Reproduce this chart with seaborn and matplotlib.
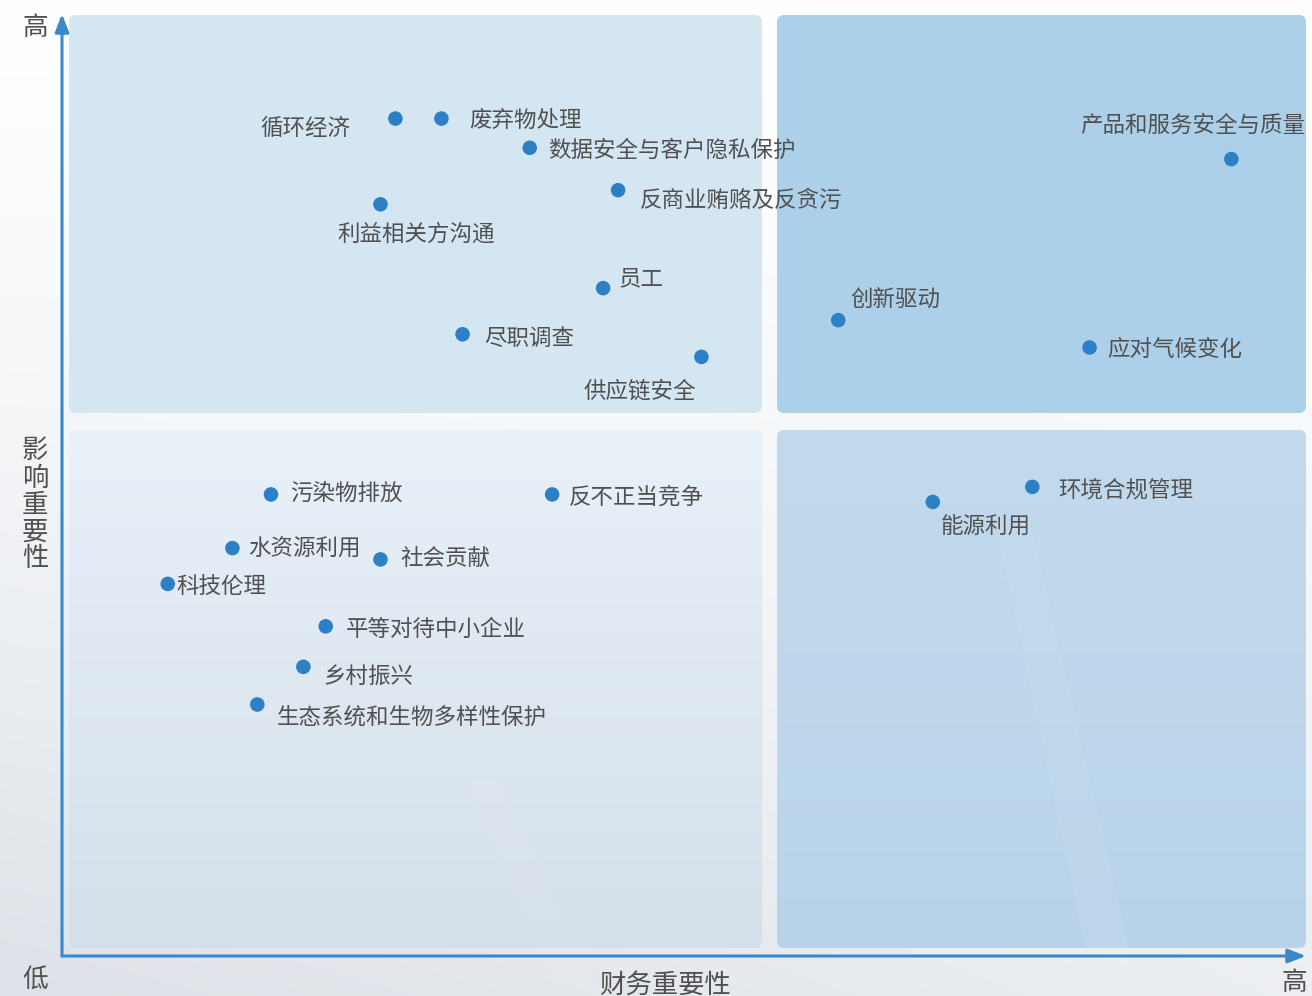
import numpy as np
import pandas as pd
import matplotlib
matplotlib.use("Agg")
import matplotlib.pyplot as plt
import seaborn as sns
from matplotlib.patches import FancyBboxPatch, Polygon

# ---------------- data ----------------
topics = ["循环经济", "废弃物处理", "数据安全与客户隐私保护", "反商业贿赂及反贪污",
          "利益相关方沟通", "员工", "尽职调查", "供应链安全",
          "产品和服务安全与质量", "创新驱动", "应对气候变化",
          "污染物排放", "反不正当竞争", "水资源利用", "社会贡献", "科技伦理",
          "平等对待中小企业", "乡村振兴", "生态系统和生物多样性保护",
          "环境合规管理", "能源利用"]
financial = [2.68, 3.05, 3.76, 4.47, 2.56, 4.35, 3.22, 5.14,
             9.40, 6.24, 8.26,
             1.68, 3.94, 1.37, 2.56, 0.85, 2.12, 1.94, 1.57,
             7.80, 7.00]
impact = [8.89, 8.89, 8.58, 8.13, 7.98, 7.09, 6.60, 6.36,
          8.46, 6.75, 6.46,
          4.90, 4.90, 4.33, 4.21, 3.95, 3.50, 3.07, 2.67,
          4.98, 4.82]

x_title = "财务重要性"
y_title = "影响重要性"
low_label = "低"
high_label = "高"

df = pd.DataFrame({"topic": topics, "financial": financial, "impact": impact})

# label placement (pixel offsets, y down) and alignment
label_pos = {
    "循环经济": (-45, 8, "right"),
    "废弃物处理": (28, 0, "left"),
    "数据安全与客户隐私保护": (18, 1, "left"),
    "反商业贿赂及反贪污": (22, 8, "left"),
    "利益相关方沟通": (36, 28, "center"),
    "员工": (15, -11, "left"),
    "尽职调查": (22, 2, "left"),
    "供应链安全": (-62, 32, "center"),
    "产品和服务安全与质量": (-151, -36, "left"),
    "创新驱动": (12, -22, "left"),
    "应对气候变化": (18, 0, "left"),
    "污染物排放": (19, -3, "left"),
    "反不正当竞争": (17, 1, "left"),
    "水资源利用": (16, -2, "left"),
    "社会贡献": (20, -3, "left"),
    "科技伦理": (9, 1, "left"),
    "平等对待中小企业": (20, 1, "left"),
    "乡村振兴": (20, 8, "left"),
    "生态系统和生物多样性保护": (19, 11, "left"),
    "环境合规管理": (26, 1, "left"),
    "能源利用": (8, 23, "left"),
}

# ---------------- style ----------------
sns.set_theme(style="white")
plt.rcParams["font.family"] = ["Noto Sans CJK SC", "DejaVu Sans"]

W, H = 1312, 996
fig = plt.figure(figsize=(W / 100, H / 100), dpi=100)
fig.patch.set_facecolor("white")

# background gradient
bg = fig.add_axes([0, 0, 1, 1], zorder=0)
yy, xx = np.mgrid[0:1:300j, 0:1:400j]
t = np.clip(yy ** 1.3 * (0.55 + 0.45 * (1 - xx)), 0, 1) * 0.95
base = np.array([0.86, 0.88, 0.905])
img = (1 - t[..., None]) * np.array([1.0, 1.0, 1.0]) + t[..., None] * base
bg.imshow(img, extent=[0, 1, 0, 1], aspect="auto", origin="upper")
bg.set_xlim(0, 1)
bg.set_ylim(0, 1)
bg.axis("off")

# main axes: origin at pixel (62, 956), arrows end at x=1306 / y=14
ax = fig.add_axes([62 / W, 40 / H, 1244 / W, 942 / H], zorder=1)
ax.set_xlim(0, 10)
ax.set_ylim(0, 10)
ax.patch.set_alpha(0)
ax.axis("off")

sx = 10 / 1244  # data per px (x)
sy = 10 / 942   # data per px (y)
aspect = sy / sx


def quad(x0, x1, y0, y1, color=None, grad=None):
    p = FancyBboxPatch((x0, y0), x1 - x0, y1 - y0,
                       boxstyle=f"round,pad=0,rounding_size={7 * sx}",
                       mutation_aspect=aspect,
                       fc=color if color else "none", ec="none",
                       clip_on=False, zorder=1)
    ax.add_patch(p)
    if grad is not None:
        top, bot = np.array(grad[0]) / 255, np.array(grad[1]) / 255
        v = np.linspace(0, 1, 200)[:, None, None]
        g = (1 - v) * top + v * bot
        g = np.repeat(g, 2, axis=1)
        im = ax.imshow(g, extent=[x0, x1, y0, y1], aspect="auto",
                       origin="upper", zorder=1.1)
        im.set_clip_path(p)
    return p


xl0, xl1 = 7 * sx, (762 - 62) * sx
xr0, xr1 = (777 - 62) * sx, (1306 - 62) * sx
yt0, yt1 = (956 - 413) * sy, (956 - 15) * sy
yb0, yb1 = (956 - 948) * sy, (956 - 430) * sy

quad(xl0, xl1, yt0, yt1, "#d5e6f3")
quad(xr0, xr1, yt0, yt1, "#add0ea")
quad(xl0, xl1, yb0, yb1, grad=((233, 241, 249), (212, 223, 233)))
quad(xr0, xr1, yb0, yb1, grad=((195, 218, 237), (184, 211, 233)))

# subtle light streaks
for pts in [[(465, 780), (500, 780), (600, 996), (560, 996)],
            [(995, 520), (1030, 520), (1140, 996), (1095, 996)]]:
    poly = Polygon([((px - 62) * sx, (956 - py) * sy) for px, py in pts],
                   closed=True, fc="white", ec="none", alpha=0.06,
                   clip_on=False, zorder=1.5)
    ax.add_patch(poly)

# axes arrows
acol = "#3a87cc"
ax.annotate("", xy=(0, 10), xytext=(0, 0),
            arrowprops=dict(arrowstyle="-|>,head_length=0.9,head_width=0.35",
                            color=acol, lw=2.2, shrinkA=0, shrinkB=0),
            annotation_clip=False, zorder=3)
ax.annotate("", xy=(10, 0), xytext=(0, 0),
            arrowprops=dict(arrowstyle="-|>,head_length=0.9,head_width=0.35",
                            color=acol, lw=2.2, shrinkA=0, shrinkB=0),
            annotation_clip=False, zorder=3)

# points
sns.scatterplot(data=df, x="financial", y="impact", ax=ax, s=110,
                color="#2e80c6", edgecolor="none", zorder=4, clip_on=False,
                legend=False)
ax.set_xlim(0, 10)
ax.set_ylim(0, 10)
ax.axis("off")

tcol = "#505050"
for name, fx, iy in zip(topics, financial, impact):
    dx, dy, ha = label_pos[name]
    ax.annotate(name, (fx, iy), xytext=(dx * 0.72, -(dy + 2) * 0.72),
                textcoords="offset points", ha=ha, va="center",
                fontsize=16.2, color=tcol, zorder=5, annotation_clip=False)

# axis texts
ax.text((35 - 62) * sx, (956 - 28) * sy, high_label, ha="center", va="center",
        fontsize=18.5, color=tcol, clip_on=False)
ax.text((35 - 62) * sx, (956 - 980) * sy, low_label, ha="center", va="center",
        fontsize=18.5, color=tcol, clip_on=False)
ax.text((1294 - 62) * sx, (956 - 983) * sy, high_label, ha="center", va="center",
        fontsize=18.5, color=tcol, clip_on=False)
ax.text((665 - 62) * sx, (956 - 985) * sy, x_title, ha="center", va="center",
        fontsize=19, color=tcol, clip_on=False)
ax.text((35 - 62) * sx, (956 - 505) * sy, "\n".join(y_title), ha="center",
        va="center", fontsize=19, color=tcol, linespacing=1.0, clip_on=False)

fig.savefig("out.png", dpi=100)
